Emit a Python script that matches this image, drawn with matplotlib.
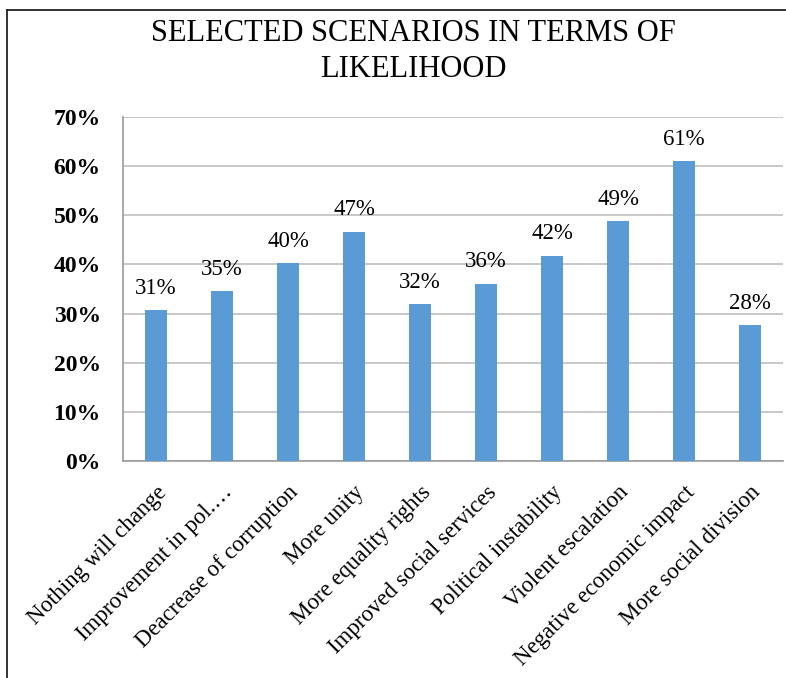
import matplotlib
matplotlib.use("Agg")
import matplotlib.pyplot as plt
from matplotlib.lines import Line2D

# scenario categories and share of respondents (fraction)
scenarios = ["Nothing will change", "Improvement in pol.\u2026", "Deacrease of corruption",
             "More unity", "More equality rights", "Improved social services",
             "Political instability", "Violent escalation", "Negative economic impact",
             "More social division"]
likelihood = [0.307, 0.346, 0.403, 0.467, 0.319, 0.361, 0.418, 0.488, 0.611, 0.277]
yticks = [0.0, 0.1, 0.2, 0.3, 0.4, 0.5, 0.6, 0.7]

plt.rcParams['font.family'] = ['Liberation Serif', 'DejaVu Serif']

fig = plt.figure(figsize=(7.86, 6.78), dpi=100)
ax = fig.add_axes([123/786, 1 - 461/678, 660/786, 344/678])

x = range(len(scenarios))
bars = ax.bar(x, likelihood, width=0.32, color="#5B9BD5", zorder=3)

for i, v in enumerate(likelihood):
    ax.annotate(f"{round(v*100):.0f}%", (i, v), xytext=(0, 8), textcoords="offset points",
                ha="center", va="bottom", fontsize=16.5)

ax.set_xlim(-0.5, len(scenarios) - 0.5)
ax.set_ylim(0, 0.7)
ax.set_yticks(yticks)
ax.set_yticklabels([f"{int(round(t*100))}%" for t in yticks], fontsize=17, fontweight="bold")
ax.set_xticks(list(x))
ax.set_xticklabels(scenarios, rotation=45, ha="right", va="top", rotation_mode="anchor", fontsize=16.5)
ax.tick_params(axis="y", length=0, pad=16)
ax.tick_params(axis="x", length=0, pad=15)

ax.yaxis.grid(True, color="#BFBFBF", linewidth=1.2, zorder=0)
ax.set_axisbelow(True)
for s in ["top", "right"]:
    ax.spines[s].set_visible(False)
for s in ["left", "bottom"]:
    ax.spines[s].set_color("#9A9A9A")
    ax.spines[s].set_linewidth(1.2)

fig.text(413/786, 1 - 19/678, "SELECTED SCENARIOS IN TERMS OF\nLIKELIHOOD", ha="center", va="top",
         fontsize=22, linespacing=1.3)

# outer frame (left and top edges)
fig.add_artist(Line2D([7/786, 7/786], [0, 1 - 10/678], transform=fig.transFigure, color="#222222", linewidth=1.3))
fig.add_artist(Line2D([7/786, 1], [1 - 10/678, 1 - 10/678], transform=fig.transFigure, color="#222222", linewidth=1.3))

fig.savefig("out.png", dpi=100, facecolor="white")
